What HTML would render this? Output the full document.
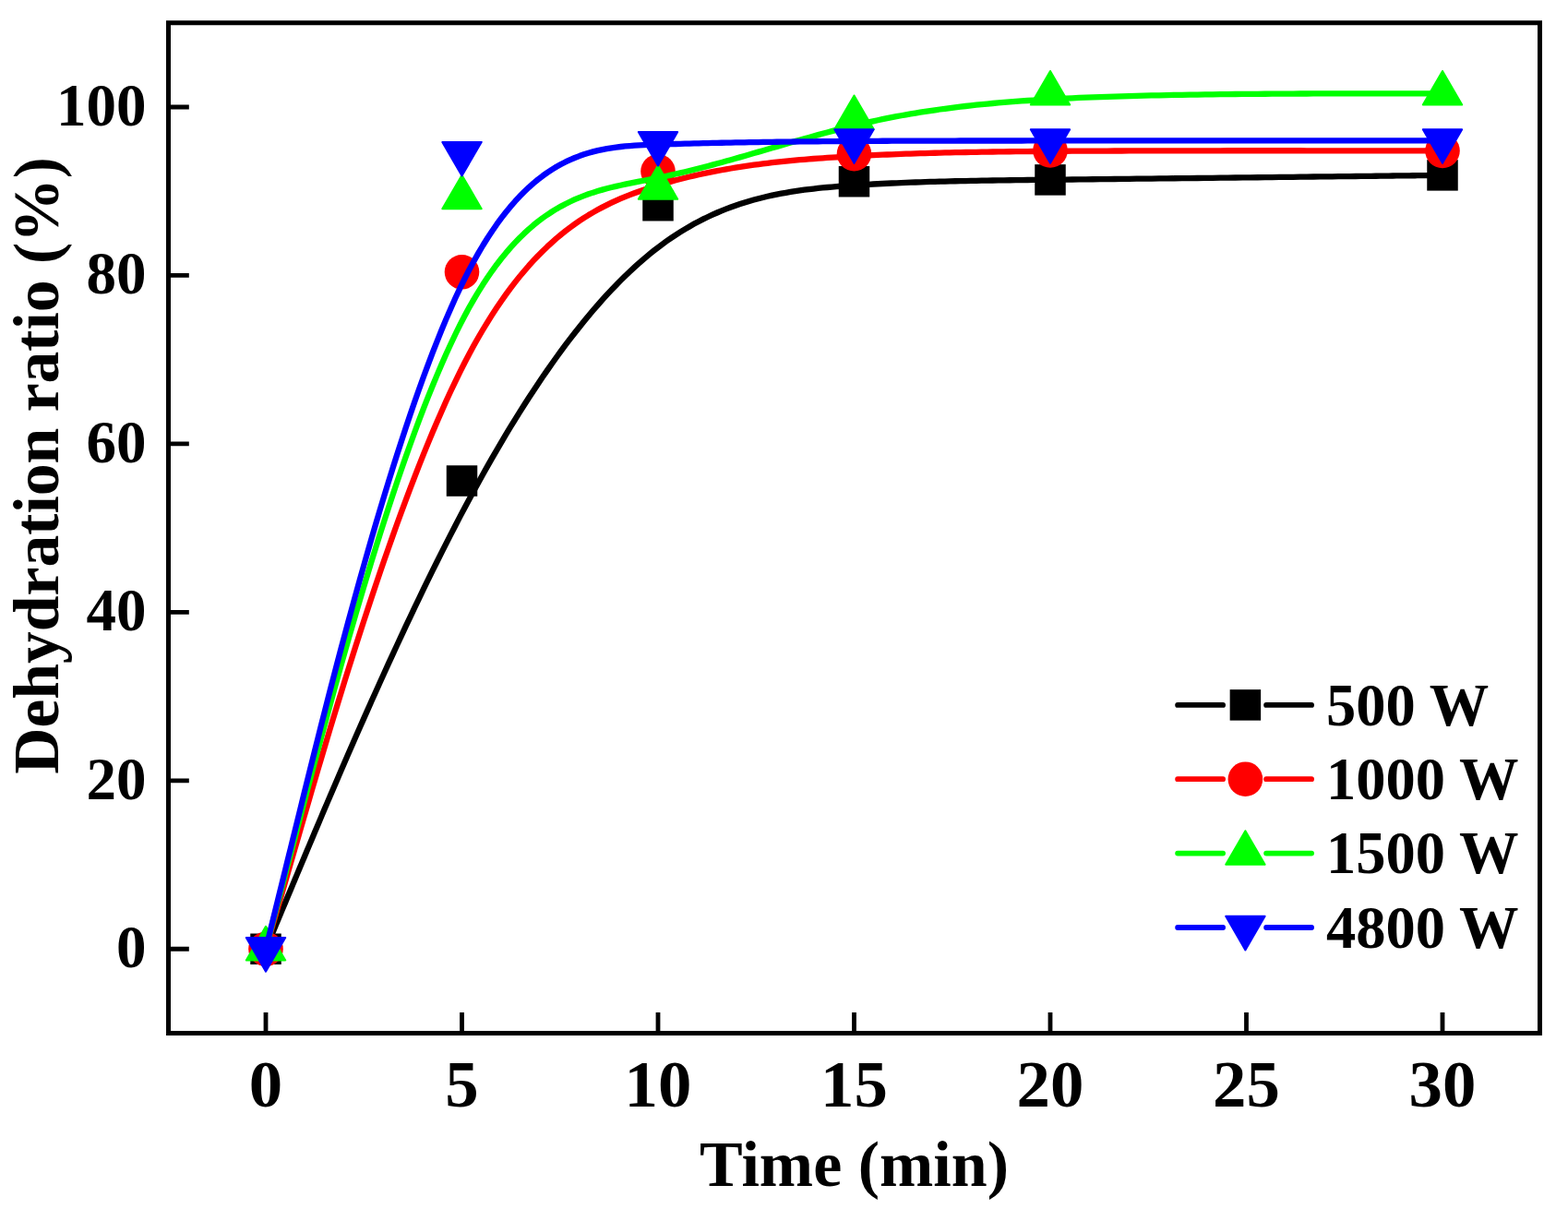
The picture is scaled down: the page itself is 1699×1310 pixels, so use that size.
<!DOCTYPE html>
<html><head><meta charset="utf-8"><title>Dehydration ratio</title>
<style>html,body{margin:0;padding:0;background:#fff;}svg{display:block;}
text{font-family:"Liberation Serif","Times New Roman",serif;font-weight:bold;fill:#000;}</style>
</head><body>
<svg width="1699" height="1310" viewBox="0 0 1699 1310">
<rect width="1699" height="1310" fill="#fff"/>
<defs><clipPath id="c"><rect x="182.5" y="24.8" width="1486.0" height="1094.8"/></clipPath></defs>

<g clip-path="url(#c)">
<path d="M288.00 1028.27 L288.00 1028.27 L288.00 1028.26 L288.01 1028.24 L288.03 1028.20 L288.06 1028.14 L288.10 1028.04 L288.16 1027.90 L288.23 1027.72 L288.33 1027.48 L288.45 1027.19 L288.60 1026.83 L288.79 1026.40 L289.00 1025.89 L289.25 1025.29 L289.53 1024.61 L289.86 1023.83 L290.23 1022.94 L290.65 1021.94 L291.12 1020.83 L291.64 1019.59 L292.21 1018.22 L292.84 1016.72 L293.53 1015.07 L294.28 1013.27 L295.10 1011.32 L295.99 1009.20 L296.94 1006.92 L297.98 1004.46 L299.08 1001.81 L300.27 998.98 L301.54 995.95 L302.89 992.73 L304.33 989.29 L305.86 985.64 L307.48 981.76 L309.20 977.66 L311.02 973.32 L312.94 968.75 L314.96 963.92 L317.08 958.85 L319.32 953.51 L321.67 947.90 L324.13 942.02 L326.71 935.87 L329.40 929.45 L332.20 922.78 L335.11 915.85 L338.12 908.69 L341.24 901.30 L344.46 893.69 L347.77 885.86 L351.17 877.84 L354.67 869.62 L358.25 861.22 L361.92 852.64 L365.68 843.90 L369.51 835.01 L373.42 825.96 L377.41 816.78 L381.47 807.47 L385.59 798.05 L389.79 788.51 L394.05 778.87 L398.37 769.14 L402.74 759.32 L407.18 749.44 L411.66 739.49 L416.20 729.48 L420.78 719.43 L425.41 709.34 L430.08 699.23 L434.79 689.10 L439.54 678.96 L444.32 668.81 L449.13 658.68 L453.97 648.57 L458.84 638.48 L463.73 628.44 L468.64 618.43 L473.57 608.49 L478.51 598.61 L483.46 588.80 L488.42 579.07 L493.39 569.44 L498.37 559.91 L503.34 550.49 L508.32 541.18 L513.29 531.99 L518.27 522.92 L523.24 513.96 L528.22 505.12 L533.19 496.40 L538.17 487.80 L543.14 479.32 L548.12 470.97 L553.09 462.73 L558.07 454.62 L563.04 446.63 L568.02 438.77 L572.99 431.03 L577.97 423.42 L582.94 415.93 L587.92 408.58 L592.89 401.35 L597.87 394.25 L602.84 387.29 L607.82 380.45 L612.79 373.74 L617.77 367.17 L622.74 360.74 L627.72 354.43 L632.69 348.27 L637.67 342.23 L642.64 336.34 L647.62 330.58 L652.59 324.96 L657.57 319.48 L662.54 314.15 L667.52 308.95 L672.49 303.89 L677.46 298.98 L682.44 294.21 L687.41 289.58 L692.39 285.10 L697.36 280.77 L702.34 276.58 L707.31 272.54 L712.29 268.65 L717.26 264.90 L722.24 261.31 L727.21 257.85 L732.19 254.54 L737.16 251.36 L742.14 248.32 L747.11 245.41 L752.09 242.62 L757.06 239.96 L762.04 237.43 L767.01 235.00 L771.99 232.70 L776.96 230.50 L781.94 228.41 L786.91 226.43 L791.89 224.55 L796.86 222.77 L801.84 221.09 L806.81 219.49 L811.79 217.99 L816.76 216.57 L821.74 215.24 L826.71 213.98 L831.69 212.80 L836.66 211.70 L841.64 210.66 L846.61 209.69 L851.59 208.79 L856.56 207.94 L861.54 207.16 L866.51 206.42 L871.49 205.74 L876.46 205.11 L881.44 204.52 L886.41 203.97 L891.39 203.46 L896.36 202.99 L901.34 202.55 L906.31 202.13 L911.29 201.74 L916.26 201.38 L921.24 201.03 L926.21 200.70 L931.19 200.38 L936.17 200.08 L941.15 199.79 L946.14 199.51 L951.15 199.24 L956.17 198.98 L961.20 198.74 L966.26 198.50 L971.33 198.28 L976.43 198.06 L981.56 197.86 L986.72 197.66 L991.92 197.48 L997.15 197.30 L1002.41 197.13 L1007.72 196.97 L1013.07 196.81 L1018.47 196.67 L1023.92 196.53 L1029.42 196.40 L1034.98 196.27 L1040.59 196.15 L1046.27 196.03 L1052.00 195.92 L1057.81 195.81 L1063.68 195.71 L1069.62 195.62 L1075.64 195.52 L1081.73 195.43 L1087.90 195.35 L1094.16 195.26 L1100.50 195.18 L1106.93 195.10 L1113.45 195.02 L1120.06 194.94 L1126.76 194.87 L1133.57 194.79 L1140.48 194.71 L1147.49 194.64 L1154.61 194.56 L1161.83 194.48 L1169.17 194.41 L1176.63 194.33 L1184.19 194.24 L1191.86 194.16 L1199.63 194.08 L1207.49 193.99 L1215.42 193.90 L1223.43 193.81 L1231.51 193.72 L1239.63 193.63 L1247.81 193.54 L1256.03 193.45 L1264.27 193.36 L1272.54 193.26 L1280.83 193.17 L1289.12 193.08 L1297.41 192.98 L1305.69 192.89 L1313.95 192.79 L1322.18 192.70 L1330.38 192.60 L1338.54 192.51 L1346.65 192.41 L1354.70 192.32 L1362.68 192.23 L1370.59 192.14 L1378.41 192.05 L1386.14 191.96 L1393.78 191.87 L1401.30 191.78 L1408.71 191.69 L1415.99 191.61 L1423.15 191.52 L1430.16 191.44 L1437.02 191.36 L1443.73 191.28 L1450.27 191.21 L1456.63 191.13 L1462.82 191.06 L1468.81 190.99 L1474.61 190.92 L1480.20 190.85 L1485.58 190.79 L1490.74 190.73 L1495.66 190.67 L1500.36 190.61 L1504.83 190.56 L1509.08 190.51 L1513.13 190.46 L1516.96 190.42 L1520.59 190.38 L1524.03 190.33 L1527.28 190.30 L1530.34 190.26 L1533.22 190.23 L1535.92 190.19 L1538.46 190.16 L1540.83 190.14 L1543.05 190.11 L1545.11 190.09 L1547.03 190.06 L1548.80 190.04 L1550.44 190.02 L1551.94 190.01 L1553.32 189.99 L1554.58 189.97 L1555.73 189.96 L1556.77 189.95 L1557.70 189.94 L1558.53 189.93 L1559.28 189.92 L1559.93 189.91 L1560.51 189.90 L1561.00 189.90 L1561.43 189.89 L1561.79 189.89 L1562.09 189.89 L1562.34 189.88 L1562.53 189.88 L1562.69 189.88 L1562.80 189.88 L1562.89 189.88 L1562.94 189.88 L1562.98 189.88 L1562.99 189.87 L1563.00 189.87 L1563.00 189.87" fill="none" stroke="#000000" stroke-width="6.3" stroke-linejoin="round" stroke-linecap="round"/>
<rect x="271.25" y="1011.52" width="33.5" height="33.5" fill="#000000"/>
<rect x="483.75" y="504.29" width="33.5" height="33.5" fill="#000000"/>
<rect x="696.25" y="205.97" width="33.5" height="33.5" fill="#000000"/>
<rect x="908.75" y="179.97" width="33.5" height="33.5" fill="#000000"/>
<rect x="1121.25" y="178.14" width="33.5" height="33.5" fill="#000000"/>
<rect x="1546.25" y="173.12" width="33.5" height="33.5" fill="#000000"/>
<path d="M288.00 1028.27 L288.00 1028.27 L288.00 1028.26 L288.01 1028.23 L288.03 1028.17 L288.06 1028.07 L288.10 1027.93 L288.16 1027.73 L288.23 1027.47 L288.33 1027.13 L288.45 1026.70 L288.60 1026.18 L288.79 1025.56 L289.00 1024.82 L289.25 1023.97 L289.53 1022.98 L289.86 1021.85 L290.23 1020.56 L290.65 1019.12 L291.12 1017.51 L291.64 1015.72 L292.21 1013.74 L292.84 1011.57 L293.53 1009.19 L294.28 1006.59 L295.10 1003.76 L295.99 1000.70 L296.94 997.40 L297.98 993.84 L299.08 990.01 L300.27 985.92 L301.54 981.54 L302.89 976.87 L304.33 971.90 L305.86 966.62 L307.48 961.02 L309.20 955.09 L311.02 948.82 L312.94 942.20 L314.96 935.22 L317.08 927.88 L319.32 920.16 L321.67 912.05 L324.13 903.55 L326.71 894.66 L329.40 885.38 L332.20 875.75 L335.11 865.76 L338.12 855.45 L341.24 844.83 L344.46 833.92 L347.77 822.74 L351.17 811.29 L354.67 799.61 L358.25 787.70 L361.92 775.59 L365.68 763.28 L369.51 750.81 L373.42 738.19 L377.41 725.43 L381.47 712.55 L385.59 699.57 L389.79 686.51 L394.05 673.38 L398.37 660.20 L402.74 646.99 L407.18 633.77 L411.66 620.55 L416.20 607.35 L420.78 594.20 L425.41 581.09 L430.08 568.06 L434.79 555.13 L439.54 542.30 L444.32 529.59 L449.13 517.03 L453.97 504.63 L458.84 492.41 L463.73 480.38 L468.64 468.57 L473.57 456.98 L478.51 445.64 L483.46 434.57 L488.42 423.78 L493.39 413.30 L498.37 403.12 L503.34 393.29 L508.32 383.79 L513.29 374.62 L518.27 365.77 L523.24 357.25 L528.22 349.03 L533.19 341.12 L538.17 333.51 L543.14 326.19 L548.12 319.15 L553.09 312.38 L558.07 305.89 L563.04 299.66 L568.02 293.69 L572.99 287.96 L577.97 282.48 L582.94 277.23 L587.92 272.21 L592.89 267.41 L597.87 262.83 L602.84 258.46 L607.82 254.28 L612.79 250.30 L617.77 246.51 L622.74 242.90 L627.72 239.46 L632.69 236.19 L637.67 233.08 L642.64 230.13 L647.62 227.32 L652.59 224.64 L657.57 222.10 L662.54 219.69 L667.52 217.40 L672.49 215.21 L677.46 213.14 L682.44 211.16 L687.41 209.27 L692.39 207.47 L697.36 205.74 L702.34 204.09 L707.31 202.49 L712.29 200.96 L717.26 199.48 L722.24 198.04 L727.21 196.66 L732.19 195.32 L737.16 194.02 L742.14 192.77 L747.11 191.56 L752.09 190.40 L757.06 189.28 L762.04 188.20 L767.01 187.16 L771.99 186.15 L776.96 185.19 L781.94 184.26 L786.91 183.37 L791.89 182.51 L796.86 181.69 L801.84 180.90 L806.81 180.14 L811.79 179.42 L816.76 178.72 L821.74 178.06 L826.71 177.42 L831.69 176.81 L836.66 176.22 L841.64 175.67 L846.61 175.13 L851.59 174.62 L856.56 174.13 L861.54 173.67 L866.51 173.22 L871.49 172.80 L876.46 172.39 L881.44 172.00 L886.41 171.63 L891.39 171.28 L896.36 170.94 L901.34 170.61 L906.31 170.30 L911.29 170.00 L916.26 169.71 L921.24 169.43 L926.21 169.16 L931.19 168.90 L936.17 168.64 L941.15 168.40 L946.14 168.16 L951.15 167.93 L956.17 167.71 L961.20 167.50 L966.26 167.29 L971.33 167.09 L976.43 166.90 L981.56 166.72 L986.72 166.54 L991.92 166.37 L997.15 166.20 L1002.41 166.04 L1007.72 165.89 L1013.07 165.75 L1018.47 165.61 L1023.92 165.47 L1029.42 165.34 L1034.98 165.22 L1040.59 165.10 L1046.27 164.99 L1052.00 164.88 L1057.81 164.78 L1063.68 164.69 L1069.62 164.59 L1075.64 164.51 L1081.73 164.42 L1087.90 164.34 L1094.16 164.27 L1100.50 164.20 L1106.93 164.13 L1113.45 164.06 L1120.06 164.00 L1126.76 163.95 L1133.57 163.89 L1140.48 163.84 L1147.49 163.80 L1154.61 163.75 L1161.83 163.71 L1169.17 163.67 L1176.63 163.63 L1184.19 163.60 L1191.86 163.56 L1199.63 163.53 L1207.49 163.50 L1215.42 163.48 L1223.43 163.45 L1231.51 163.43 L1239.63 163.41 L1247.81 163.39 L1256.03 163.37 L1264.27 163.35 L1272.54 163.34 L1280.83 163.32 L1289.12 163.31 L1297.41 163.30 L1305.69 163.29 L1313.95 163.29 L1322.18 163.28 L1330.38 163.27 L1338.54 163.27 L1346.65 163.27 L1354.70 163.26 L1362.68 163.26 L1370.59 163.26 L1378.41 163.26 L1386.14 163.26 L1393.78 163.27 L1401.30 163.27 L1408.71 163.27 L1415.99 163.28 L1423.15 163.28 L1430.16 163.28 L1437.02 163.29 L1443.73 163.30 L1450.27 163.30 L1456.63 163.31 L1462.82 163.31 L1468.81 163.32 L1474.61 163.32 L1480.20 163.33 L1485.58 163.34 L1490.74 163.34 L1495.66 163.35 L1500.36 163.35 L1504.83 163.36 L1509.08 163.36 L1513.13 163.36 L1516.96 163.37 L1520.59 163.37 L1524.03 163.38 L1527.28 163.38 L1530.34 163.38 L1533.22 163.39 L1535.92 163.39 L1538.46 163.39 L1540.83 163.39 L1543.05 163.40 L1545.11 163.40 L1547.03 163.40 L1548.80 163.40 L1550.44 163.40 L1551.94 163.41 L1553.32 163.41 L1554.58 163.41 L1555.73 163.41 L1556.77 163.41 L1557.70 163.41 L1558.53 163.41 L1559.28 163.41 L1559.93 163.42 L1560.51 163.42 L1561.00 163.42 L1561.43 163.42 L1561.79 163.42 L1562.09 163.42 L1562.34 163.42 L1562.53 163.42 L1562.69 163.42 L1562.80 163.42 L1562.89 163.42 L1562.94 163.42 L1562.98 163.42 L1562.99 163.42 L1563.00 163.42 L1563.00 163.42" fill="none" stroke="#ff0000" stroke-width="6.3" stroke-linejoin="round" stroke-linecap="round"/>
<circle cx="288.00" cy="1028.27" r="18.80" fill="#ff0000"/>
<circle cx="500.50" cy="294.79" r="18.80" fill="#ff0000"/>
<circle cx="713.00" cy="185.77" r="18.80" fill="#ff0000"/>
<circle cx="925.50" cy="166.61" r="18.80" fill="#ff0000"/>
<circle cx="1138.00" cy="162.96" r="18.80" fill="#ff0000"/>
<circle cx="1563.00" cy="163.42" r="18.80" fill="#ff0000"/>
<path d="M288.00 1028.27 L288.00 1028.27 L288.00 1028.26 L288.01 1028.22 L288.03 1028.16 L288.06 1028.05 L288.10 1027.89 L288.16 1027.67 L288.23 1027.38 L288.33 1027.00 L288.45 1026.53 L288.60 1025.95 L288.79 1025.26 L289.00 1024.45 L289.25 1023.49 L289.53 1022.39 L289.86 1021.14 L290.23 1019.72 L290.65 1018.12 L291.12 1016.33 L291.64 1014.34 L292.21 1012.14 L292.84 1009.73 L293.53 1007.08 L294.28 1004.20 L295.10 1001.06 L295.99 997.67 L296.94 994.00 L297.98 990.05 L299.08 985.80 L300.27 981.26 L301.54 976.40 L302.89 971.21 L304.33 965.69 L305.86 959.83 L307.48 953.61 L309.20 947.03 L311.02 940.07 L312.94 932.72 L314.96 924.98 L317.08 916.83 L319.32 908.26 L321.67 899.26 L324.13 889.83 L326.71 879.95 L329.40 869.66 L332.20 858.97 L335.11 847.89 L338.12 836.47 L341.24 824.70 L344.46 812.62 L347.77 800.25 L351.17 787.60 L354.67 774.69 L358.25 761.56 L361.92 748.21 L365.68 734.67 L369.51 720.96 L373.42 707.10 L377.41 693.11 L381.47 679.02 L385.59 664.83 L389.79 650.58 L394.05 636.29 L398.37 621.97 L402.74 607.64 L407.18 593.33 L411.66 579.06 L416.20 564.84 L420.78 550.71 L425.41 536.67 L430.08 522.76 L434.79 508.98 L439.54 495.37 L444.32 481.94 L449.13 468.71 L453.97 455.71 L458.84 442.95 L463.73 430.46 L468.64 418.25 L473.57 406.35 L478.51 394.78 L483.46 383.55 L488.42 372.70 L493.39 362.24 L498.37 352.18 L503.34 342.56 L508.32 333.37 L513.29 324.61 L518.27 316.25 L523.24 308.30 L528.22 300.74 L533.19 293.55 L538.17 286.73 L543.14 280.27 L548.12 274.15 L553.09 268.37 L558.07 262.91 L563.04 257.76 L568.02 252.91 L572.99 248.35 L577.97 244.07 L582.94 240.06 L587.92 236.30 L592.89 232.78 L597.87 229.50 L602.84 226.44 L607.82 223.60 L612.79 220.95 L617.77 218.49 L622.74 216.21 L627.72 214.10 L632.69 212.14 L637.67 210.32 L642.64 208.64 L647.62 207.08 L652.59 205.63 L657.57 204.28 L662.54 203.02 L667.52 201.84 L672.49 200.72 L677.46 199.66 L682.44 198.64 L687.41 197.66 L692.39 196.69 L697.36 195.74 L702.34 194.79 L707.31 193.82 L712.29 192.83 L717.26 191.81 L722.24 190.75 L727.21 189.66 L732.19 188.54 L737.16 187.39 L742.14 186.21 L747.11 185.01 L752.09 183.77 L757.06 182.52 L762.04 181.24 L767.01 179.94 L771.99 178.62 L776.96 177.28 L781.94 175.92 L786.91 174.55 L791.89 173.17 L796.86 171.77 L801.84 170.36 L806.81 168.94 L811.79 167.52 L816.76 166.08 L821.74 164.65 L826.71 163.21 L831.69 161.76 L836.66 160.32 L841.64 158.87 L846.61 157.43 L851.59 156.00 L856.56 154.56 L861.54 153.14 L866.51 151.72 L871.49 150.31 L876.46 148.92 L881.44 147.53 L886.41 146.16 L891.39 144.81 L896.36 143.47 L901.34 142.15 L906.31 140.85 L911.29 139.57 L916.26 138.32 L921.24 137.08 L926.21 135.88 L931.19 134.70 L936.17 133.55 L941.15 132.42 L946.14 131.32 L951.15 130.25 L956.17 129.20 L961.20 128.18 L966.26 127.18 L971.33 126.21 L976.43 125.26 L981.56 124.33 L986.72 123.43 L991.92 122.55 L997.15 121.70 L1002.41 120.86 L1007.72 120.05 L1013.07 119.27 L1018.47 118.50 L1023.92 117.76 L1029.42 117.04 L1034.98 116.34 L1040.59 115.66 L1046.27 115.00 L1052.00 114.36 L1057.81 113.74 L1063.68 113.14 L1069.62 112.56 L1075.64 111.99 L1081.73 111.45 L1087.90 110.93 L1094.16 110.42 L1100.50 109.93 L1106.93 109.46 L1113.45 109.01 L1120.06 108.57 L1126.76 108.15 L1133.57 107.75 L1140.48 107.36 L1147.49 106.99 L1154.61 106.64 L1161.83 106.30 L1169.17 105.97 L1176.63 105.66 L1184.19 105.36 L1191.86 105.08 L1199.63 104.81 L1207.49 104.56 L1215.42 104.32 L1223.43 104.09 L1231.51 103.87 L1239.63 103.66 L1247.81 103.47 L1256.03 103.29 L1264.27 103.12 L1272.54 102.95 L1280.83 102.80 L1289.12 102.66 L1297.41 102.53 L1305.69 102.41 L1313.95 102.30 L1322.18 102.19 L1330.38 102.10 L1338.54 102.01 L1346.65 101.93 L1354.70 101.85 L1362.68 101.79 L1370.59 101.73 L1378.41 101.67 L1386.14 101.63 L1393.78 101.58 L1401.30 101.55 L1408.71 101.52 L1415.99 101.49 L1423.15 101.46 L1430.16 101.44 L1437.02 101.43 L1443.73 101.41 L1450.27 101.40 L1456.63 101.40 L1462.82 101.39 L1468.81 101.39 L1474.61 101.38 L1480.20 101.38 L1485.58 101.38 L1490.74 101.38 L1495.66 101.38 L1500.36 101.38 L1504.83 101.38 L1509.08 101.38 L1513.13 101.38 L1516.96 101.38 L1520.59 101.38 L1524.03 101.38 L1527.28 101.38 L1530.34 101.38 L1533.22 101.38 L1535.92 101.38 L1538.46 101.38 L1540.83 101.38 L1543.05 101.38 L1545.11 101.38 L1547.03 101.38 L1548.80 101.38 L1550.44 101.38 L1551.94 101.38 L1553.32 101.38 L1554.58 101.38 L1555.73 101.38 L1556.77 101.38 L1557.70 101.38 L1558.53 101.38 L1559.28 101.38 L1559.93 101.38 L1560.51 101.38 L1561.00 101.38 L1561.43 101.38 L1561.79 101.38 L1562.09 101.38 L1562.34 101.38 L1562.53 101.38 L1562.69 101.38 L1562.80 101.38 L1562.89 101.38 L1562.94 101.38 L1562.98 101.38 L1562.99 101.38 L1563.00 101.38 L1563.00 101.38" fill="none" stroke="#00ff00" stroke-width="6.3" stroke-linejoin="round" stroke-linecap="round"/>
<polygon points="288.00,1003.87 309.20,1040.47 266.80,1040.47" fill="#00ff00" stroke="#00ff00" stroke-width="2" stroke-linejoin="round"/>
<polygon points="500.50,189.65 521.70,226.25 479.30,226.25" fill="#00ff00" stroke="#00ff00" stroke-width="2" stroke-linejoin="round"/>
<polygon points="713.00,179.16 734.20,215.76 691.80,215.76" fill="#00ff00" stroke="#00ff00" stroke-width="2" stroke-linejoin="round"/>
<polygon points="925.50,103.44 946.70,140.04 904.30,140.04" fill="#00ff00" stroke="#00ff00" stroke-width="2" stroke-linejoin="round"/>
<polygon points="1138.00,76.98 1159.20,113.58 1116.80,113.58" fill="#00ff00" stroke="#00ff00" stroke-width="2" stroke-linejoin="round"/>
<polygon points="1563.00,76.98 1584.20,113.58 1541.80,113.58" fill="#00ff00" stroke="#00ff00" stroke-width="2" stroke-linejoin="round"/>
<path d="M288.00 1028.27 L288.00 1028.27 L288.00 1028.26 L288.01 1028.22 L288.03 1028.15 L288.06 1028.04 L288.10 1027.87 L288.16 1027.64 L288.23 1027.33 L288.33 1026.93 L288.45 1026.43 L288.60 1025.82 L288.79 1025.08 L289.00 1024.22 L289.25 1023.21 L289.53 1022.05 L289.86 1020.72 L290.23 1019.21 L290.65 1017.52 L291.12 1015.62 L291.64 1013.52 L292.21 1011.20 L292.84 1008.64 L293.53 1005.84 L294.28 1002.78 L295.10 999.46 L295.99 995.87 L296.94 991.98 L297.98 987.80 L299.08 983.30 L300.27 978.49 L301.54 973.34 L302.89 967.86 L304.33 962.01 L305.86 955.81 L307.48 949.22 L309.20 942.25 L311.02 934.88 L312.94 927.10 L314.96 918.90 L317.08 910.27 L319.32 901.20 L321.67 891.67 L324.13 881.68 L326.71 871.23 L329.40 860.33 L332.20 849.01 L335.11 837.28 L338.12 825.18 L341.24 812.73 L344.46 799.94 L347.77 786.83 L351.17 773.44 L354.67 759.78 L358.25 745.87 L361.92 731.74 L365.68 717.40 L369.51 702.88 L373.42 688.21 L377.41 673.40 L381.47 658.47 L385.59 643.46 L389.79 628.37 L394.05 613.23 L398.37 598.07 L402.74 582.90 L407.18 567.75 L411.66 552.64 L416.20 537.59 L420.78 522.62 L425.41 507.76 L430.08 493.03 L434.79 478.44 L439.54 464.03 L444.32 449.81 L449.13 435.81 L453.97 422.04 L458.84 408.53 L463.73 395.31 L468.64 382.38 L473.57 369.78 L478.51 357.53 L483.46 345.65 L488.42 334.16 L493.39 323.08 L498.37 312.44 L503.34 302.25 L508.32 292.53 L513.29 283.25 L518.27 274.41 L523.24 266.00 L528.22 258.01 L533.19 250.42 L538.17 243.23 L543.14 236.42 L548.12 229.99 L553.09 223.92 L558.07 218.20 L563.04 212.82 L568.02 207.78 L572.99 203.05 L577.97 198.63 L582.94 194.51 L587.92 190.68 L592.89 187.12 L597.87 183.83 L602.84 180.80 L607.82 178.01 L612.79 175.45 L617.77 173.11 L622.74 170.99 L627.72 169.07 L632.69 167.33 L637.67 165.78 L642.64 164.39 L647.62 163.16 L652.59 162.08 L657.57 161.13 L662.54 160.31 L667.52 159.61 L672.49 159.00 L677.46 158.49 L682.44 158.06 L687.41 157.70 L692.39 157.41 L697.36 157.16 L702.34 156.95 L707.31 156.76 L712.29 156.60 L717.26 156.44 L722.24 156.29 L727.21 156.14 L732.19 155.99 L737.16 155.85 L742.14 155.71 L747.11 155.58 L752.09 155.45 L757.06 155.33 L762.04 155.20 L767.01 155.09 L771.99 154.97 L776.96 154.86 L781.94 154.76 L786.91 154.65 L791.89 154.56 L796.86 154.46 L801.84 154.37 L806.81 154.28 L811.79 154.19 L816.76 154.11 L821.74 154.03 L826.71 153.95 L831.69 153.88 L836.66 153.80 L841.64 153.74 L846.61 153.67 L851.59 153.61 L856.56 153.55 L861.54 153.49 L866.51 153.43 L871.49 153.38 L876.46 153.33 L881.44 153.28 L886.41 153.23 L891.39 153.19 L896.36 153.14 L901.34 153.10 L906.31 153.06 L911.29 153.02 L916.26 152.99 L921.24 152.95 L926.21 152.92 L931.19 152.89 L936.17 152.86 L941.15 152.83 L946.14 152.81 L951.15 152.78 L956.17 152.76 L961.20 152.73 L966.26 152.71 L971.33 152.69 L976.43 152.67 L981.56 152.66 L986.72 152.64 L991.92 152.62 L997.15 152.61 L1002.41 152.59 L1007.72 152.58 L1013.07 152.57 L1018.47 152.56 L1023.92 152.55 L1029.42 152.54 L1034.98 152.53 L1040.59 152.52 L1046.27 152.51 L1052.00 152.51 L1057.81 152.50 L1063.68 152.50 L1069.62 152.49 L1075.64 152.49 L1081.73 152.49 L1087.90 152.48 L1094.16 152.48 L1100.50 152.48 L1106.93 152.48 L1113.45 152.47 L1120.06 152.47 L1126.76 152.47 L1133.57 152.47 L1140.48 152.47 L1147.49 152.47 L1154.61 152.47 L1161.83 152.47 L1169.17 152.47 L1176.63 152.47 L1184.19 152.47 L1191.86 152.47 L1199.63 152.47 L1207.49 152.47 L1215.42 152.47 L1223.43 152.47 L1231.51 152.47 L1239.63 152.47 L1247.81 152.47 L1256.03 152.47 L1264.27 152.47 L1272.54 152.47 L1280.83 152.47 L1289.12 152.47 L1297.41 152.47 L1305.69 152.47 L1313.95 152.47 L1322.18 152.47 L1330.38 152.47 L1338.54 152.47 L1346.65 152.47 L1354.70 152.47 L1362.68 152.47 L1370.59 152.47 L1378.41 152.47 L1386.14 152.47 L1393.78 152.47 L1401.30 152.47 L1408.71 152.47 L1415.99 152.47 L1423.15 152.47 L1430.16 152.47 L1437.02 152.47 L1443.73 152.47 L1450.27 152.47 L1456.63 152.47 L1462.82 152.47 L1468.81 152.47 L1474.61 152.47 L1480.20 152.47 L1485.58 152.47 L1490.74 152.47 L1495.66 152.47 L1500.36 152.47 L1504.83 152.47 L1509.08 152.47 L1513.13 152.47 L1516.96 152.47 L1520.59 152.47 L1524.03 152.47 L1527.28 152.47 L1530.34 152.47 L1533.22 152.47 L1535.92 152.47 L1538.46 152.47 L1540.83 152.47 L1543.05 152.47 L1545.11 152.47 L1547.03 152.47 L1548.80 152.47 L1550.44 152.47 L1551.94 152.47 L1553.32 152.47 L1554.58 152.47 L1555.73 152.47 L1556.77 152.47 L1557.70 152.47 L1558.53 152.47 L1559.28 152.47 L1559.93 152.47 L1560.51 152.47 L1561.00 152.47 L1561.43 152.47 L1561.79 152.47 L1562.09 152.47 L1562.34 152.47 L1562.53 152.47 L1562.69 152.47 L1562.80 152.47 L1562.89 152.47 L1562.94 152.47 L1562.98 152.47 L1562.99 152.47 L1563.00 152.47 L1563.00 152.47" fill="none" stroke="#0000ff" stroke-width="6.3" stroke-linejoin="round" stroke-linecap="round"/>
<polygon points="288.00,1052.67 309.20,1016.07 266.80,1016.07" fill="#0000ff" stroke="#0000ff" stroke-width="2" stroke-linejoin="round"/>
<polygon points="500.50,190.56 521.70,153.96 479.30,153.96" fill="#0000ff" stroke="#0000ff" stroke-width="2" stroke-linejoin="round"/>
<polygon points="713.00,179.61 734.20,143.01 691.80,143.01" fill="#0000ff" stroke="#0000ff" stroke-width="2" stroke-linejoin="round"/>
<polygon points="925.50,176.87 946.70,140.27 904.30,140.27" fill="#0000ff" stroke="#0000ff" stroke-width="2" stroke-linejoin="round"/>
<polygon points="1138.00,176.87 1159.20,140.27 1116.80,140.27" fill="#0000ff" stroke="#0000ff" stroke-width="2" stroke-linejoin="round"/>
<polygon points="1563.00,176.87 1584.20,140.27 1541.80,140.27" fill="#0000ff" stroke="#0000ff" stroke-width="2" stroke-linejoin="round"/>
</g>
<rect x="182.50" y="24.75" width="1486.00" height="1094.75" fill="none" stroke="#000" stroke-width="5"/>
<path d="M288.00 1119.50 V1097.00 M500.50 1119.50 V1097.00 M713.00 1119.50 V1097.00 M925.50 1119.50 V1097.00 M1138.00 1119.50 V1097.00 M1350.50 1119.50 V1097.00 M1563.00 1119.50 V1097.00 M182.50 1028.27 H204.80 M182.50 845.81 H204.80 M182.50 663.35 H204.80 M182.50 480.90 H204.80 M182.50 298.44 H204.80 M182.50 115.98 H204.80" stroke="#000" stroke-width="4.8" fill="none"/>
<text x="288.00" y="1199.1" font-size="72.8" text-anchor="middle">0</text>
<text x="500.50" y="1199.1" font-size="72.8" text-anchor="middle">5</text>
<text x="713.00" y="1199.1" font-size="72.8" text-anchor="middle">10</text>
<text x="925.50" y="1199.1" font-size="72.8" text-anchor="middle">15</text>
<text x="1138.00" y="1199.1" font-size="72.8" text-anchor="middle">20</text>
<text x="1350.50" y="1199.1" font-size="72.8" text-anchor="middle">25</text>
<text x="1563.00" y="1199.1" font-size="72.8" text-anchor="middle">30</text>
<text x="158.5" y="1048.27" font-size="65" text-anchor="end">0</text>
<text x="158.5" y="865.81" font-size="65" text-anchor="end">20</text>
<text x="158.5" y="683.35" font-size="65" text-anchor="end">40</text>
<text x="158.5" y="500.90" font-size="65" text-anchor="end">60</text>
<text x="158.5" y="318.44" font-size="65" text-anchor="end">80</text>
<text x="158.5" y="135.98" font-size="65" text-anchor="end">100</text>
<text x="758" y="1284.5" font-size="70">Time (min)</text>
<text transform="translate(63.3 838.8) rotate(-90)" x="0" y="0" font-size="69.6">Dehydration ratio (%)</text>
<path d="M1276.1 763.90 H1325.1 M1372.1 763.90 H1421.1" stroke="#000000" stroke-width="5.8" stroke-linecap="round"/>
<rect x="1332.65" y="747.15" width="33.5" height="33.5" fill="#000000"/>
<text x="1437" y="785.70" font-size="64.5">500 W</text>
<path d="M1276.1 844.20 H1325.1 M1372.1 844.20 H1421.1" stroke="#ff0000" stroke-width="5.8" stroke-linecap="round"/>
<circle cx="1349.40" cy="844.20" r="18.80" fill="#ff0000"/>
<text x="1437" y="866.00" font-size="64.5">1000 W</text>
<path d="M1276.1 924.60 H1325.1 M1372.1 924.60 H1421.1" stroke="#00ff00" stroke-width="5.8" stroke-linecap="round"/>
<polygon points="1349.40,900.20 1370.60,936.80 1328.20,936.80" fill="#00ff00" stroke="#00ff00" stroke-width="2" stroke-linejoin="round"/>
<text x="1437" y="946.40" font-size="64.5">1500 W</text>
<path d="M1276.1 1005.00 H1325.1 M1372.1 1005.00 H1421.1" stroke="#0000ff" stroke-width="5.8" stroke-linecap="round"/>
<polygon points="1349.40,1029.40 1370.60,992.80 1328.20,992.80" fill="#0000ff" stroke="#0000ff" stroke-width="2" stroke-linejoin="round"/>
<text x="1437" y="1026.80" font-size="64.5">4800 W</text>
</svg>
</body></html>
